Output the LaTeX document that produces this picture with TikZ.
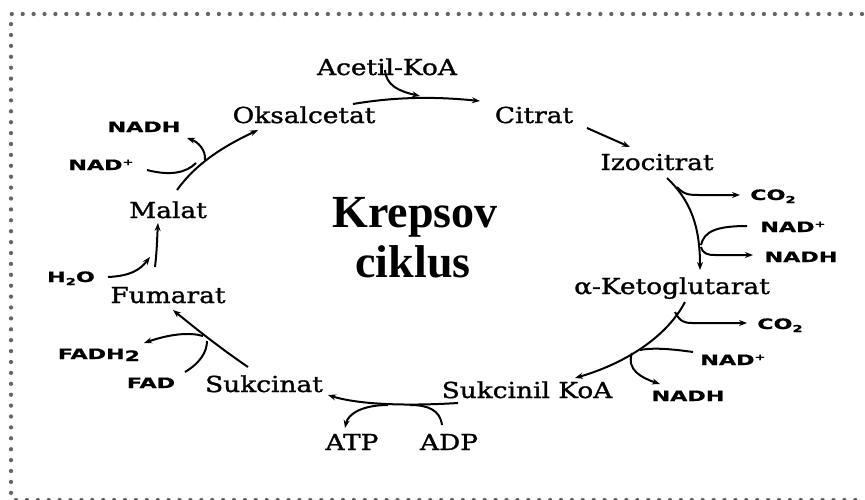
\documentclass[tikz,border=0pt]{standalone}
\usepackage{fontspec}
\setmainfont{DejaVu Serif}
\newfontfamily\labfont{DejaVu Serif}[FakeStretch=1.2,FakeBold=1.3]
\newfontfamily\smfont{DejaVu Sans Bold}[FakeStretch=1.55,FakeBold=0.8]
\newfontfamily\bigfont{Liberation Serif Bold}
\usetikzlibrary{arrows.meta,calc}
\definecolor{bord}{HTML}{666666}
\newcommand{\lowtwo}{\raisebox{-3pt}{\fontsize{9.5}{9.5}\selectfont 2}}
\newcommand{\upplus}{\raisebox{5pt}{\fontsize{8.5}{8.5}\selectfont +}}
\tikzset{
 met/.style={anchor=base,inner sep=0pt,font=\labfont\fontsize{22}{22}\selectfont},
 cof/.style={anchor=base,inner sep=0pt,font=\smfont\fontsize{14.3}{14.3}\selectfont},
 bigt/.style={anchor=base,inner sep=0pt,font=\bigfont\fontsize{46}{46}\selectfont},
 arr/.style={line width=2pt,-{Stealth[length=8pt,width=6pt]}},
 ln/.style={line width=2pt},
 dotline/.style={bord,line width=4.3pt,line cap=round,dash pattern=on 0pt off 10.9pt}
}
\begin{document}
\begin{tikzpicture}[x=1pt,y=-1pt]
\useasboundingbox (0,0) rectangle (865,499);
\draw[dotline] (862,14) -- (11,14) -- (11,494);
\draw[dotline] (16,500) -- (865,500);

% metabolites
\node[met] (ace) at (387,75) {Acetil-KoA};
\node[met] (oks) at (304,123) {Oksalcetat};
\node[met] (cit) at (534,123) {Citrat};
\node[met] (izo) at (657,170) {Izocitrat};
\node[met] (akg) at (672,294) {α-Ketoglutarat};
\node[met] (suk) at (527,398) {Sukcinil KoA};
\node[met] (sun) at (264,392) {Sukcinat};
\node[met] (atp) at (352,450) {ATP};
\node[met] (adp) at (449,450) {ADP};
\node[met] (fum) at (168,303) {Fumarat};
\node[met] (mal) at (168,218) {Malat};
\node[bigt] (k1) at (415,227) {Krepsov};
\node[bigt] (k2) at (413,277) {ciklus};

% cofactors
\node[cof] (nadh1) at (144,132) {NADH};
\node[cof] (nad1) at (101,170) {NAD\upplus};
\node[cof] (h2o) at (71,282) {H\lowtwo O};
\node[cof] (co2a) at (773,200) {CO\lowtwo};
\node[cof] (nad2) at (793,232) {NAD\upplus};
\node[cof] (nadh2) at (801,262) {NADH};
\node[cof] (co2b) at (780,329) {CO\lowtwo};
\node[cof] (nad3) at (733,365) {NAD\upplus};
\node[cof] (nadh3) at (688,401) {NADH};
\node[cof] (fadh2) at (99,359) {FADH\raisebox{-2pt}{2}};
\node[cof] (fad) at (151,388) {FAD};

% 1 Oksalcetat -> Citrat
\draw[arr] ($(oks.base)+(49,-19)$) .. controls (400,96) and (440,97) .. ($(cit.base)+(-54,-22)$);
\coordinate (j1) at (420,96);
\draw[arr] ($(ace.base)+(-2,-5)$) .. controls (386,85) and (398,91) .. (j1);

% 2 Citrat -> Izocitrat
\draw[arr] ($(cit.base)+(53,5)$) -- ($(izo.base)+(-27,-23)$);

% 3 Izocitrat -> a-Ketoglutarat
\draw[arr] ($(izo.base)+(10,8)$) .. controls (690,200) and (700,225) .. ($(akg.base)+(28,-24)$);
\draw[arr] (677,187) .. controls (684,195) and (690,195) .. (700,195) -- ($(co2a.base)+(-33,-5)$);
\draw[ln] ($(nad2.base)+(-46,-6)$) .. controls (715,226) and (704,232) .. (701,245);
\draw[arr] (701,247) .. controls (703,254) and (708,255) .. (715,255) -- ($(nadh2.base)+(-48,-7)$);

% 4 a-Ketoglutarat -> Sukcinil KoA
\draw[arr] ($(akg.base)+(13,8)$) .. controls (665,340) and (620,365) .. ($(suk.base)+(48,-20)$);
\draw[arr] (675,312) .. controls (680,322) and (685,323) .. (692,323) -- ($(co2b.base)+(-33,-6)$);
\draw[ln] ($(nad3.base)+(-40,-13)$) .. controls (665,348) and (650,348) .. (640,350);
\draw[arr] (632,353) .. controls (626,370) and (642,378) .. ($(nadh3.base)+(-28,-17)$);

% 5 Sukcinil KoA -> Sukcinat
\draw[arr] ($(suk.base)+(-69,5)$) .. controls (410,406) and (360,405) .. ($(sun.base)+(64,3)$);
\draw[ln] ($(adp.base)+(-7,-25)$) .. controls (440,410) and (428,405) .. (410,405);
\draw[arr] (388,405) .. controls (362,405) and (348,414) .. ($(atp.base)+(-7,-22)$);

% 6 Sukcinat -> Fumarat
\draw[arr] ($(sun.base)+(-16,-25)$) .. controls (220,348) and (195,328) .. ($(fum.base)+(5,7)$);
\draw[ln] ($(fad.base)+(34,-16)$) .. controls (200,363) and (207,352) .. (207,341);
\draw[arr] (203,336) .. controls (190,332) and (170,334) .. ($(fadh2.base)+(45,-16)$);

% 7 Fumarat -> Malat
\draw[arr] ($(fum.base)+(-13,-36)$) .. controls (157,250) and (157,240) .. ($(mal.base)+(-10,5)$);
\draw[arr] ($(h2o.base)+(37,-5)$) .. controls (130,276) and (140,270) .. (150,257);

% 8 Malat -> Oksalcetat
\draw[arr] ($(mal.base)+(9,-28)$) .. controls (195,165) and (220,148) .. ($(oks.base)+(-46,7)$);
\draw[ln] ($(nad1.base)+(46,0)$) .. controls (170,176) and (186,173) .. (196,163);
\draw[arr] (205,160) .. controls (206,150) and (198,142) .. ($(nadh1.base)+(43,6)$);
\end{tikzpicture}
\end{document}
